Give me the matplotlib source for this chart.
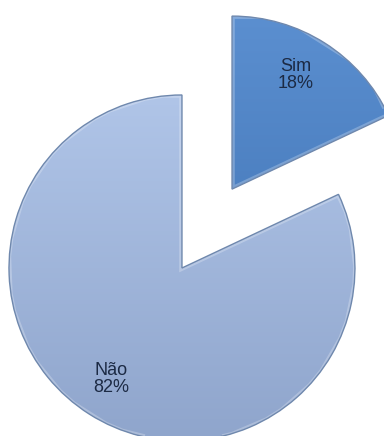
import numpy as np
import matplotlib.pyplot as plt
import matplotlib.colors as mcolors

plt.rcParams['font.family'] = ['Liberation Sans', 'DejaVu Sans']

labels = ['Sim', 'Não']
values = [18, 82]
explode = [0.54, 0]
# top / bottom shades of the gradient for each slice
grad_top = ['#5b8fd0', '#b0c5e8']
grad_bottom = ['#3f72b3', '#8fa5cc']

fig = plt.figure(figsize=(3.84, 4.36), dpi=100)
ax = fig.add_axes([0, 0, 1, 1])

texts_fmt = ['{}\n{}%'.format(l, v) for l, v in zip(labels, values)]
wedges, texts = ax.pie(values, labels=texts_fmt, explode=explode, startangle=90,
                       counterclock=False, labeldistance=0.76,
                       wedgeprops=dict(linewidth=1.0, edgecolor='#6f88ad'),
                       textprops=dict(fontsize=13, color='#1c2a44', ha='center', va='center'))

# vertical gradient fill, clipped to each wedge
for w, c1, c2 in zip(wedges, grad_top, grad_bottom):
    cmap = mcolors.LinearSegmentedColormap.from_list('g', [c2, c1])
    w.set_facecolor('none')
    cx, cy = w.center
    grad = np.linspace(0, 1, 256).reshape(-1, 1)
    im = ax.imshow(grad, cmap=cmap, origin='lower', aspect='auto',
                   extent=[cx - 1, cx + 1, cy - 1, cy + 1], zorder=0.5)
    im.set_clip_path(w)
    # soft bevel around the edge
    ax.add_patch(plt.Polygon(w.get_path().vertices, closed=True, fill=False,
                             transform=w.get_transform(), lw=4, ec='white',
                             alpha=0.25, zorder=0.6, clip_path=w))
    w.set_zorder(0.7)

# nudge the small slice's label toward the top
cx, cy = wedges[0].center
texts[0].set_position((cx + 0.37, cy + 0.66))

for t in texts:
    t.set_zorder(3)
    t.set_linespacing(1.0)

ax.set_xlim(-1.052, 1.168)
ax.set_ylim(-0.971, 1.549)
ax.set_aspect('auto')
ax.axis('off')

fig.savefig('out.png', dpi=100, facecolor='white')
